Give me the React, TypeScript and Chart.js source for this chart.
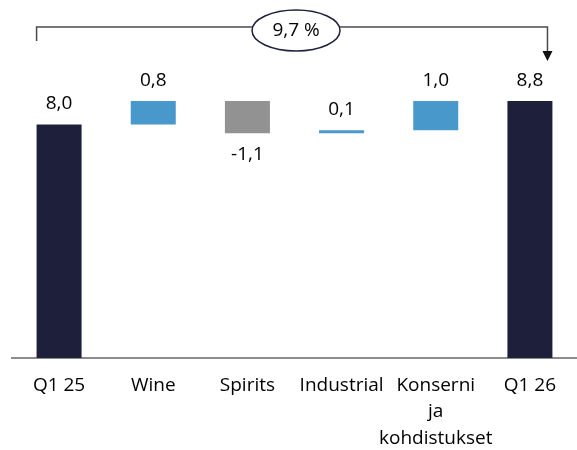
import { useEffect, useRef } from 'react';
import { Chart, registerables } from 'chart.js';

Chart.register(...registerables);

// ---- Data ----
const categories = ['Q1 25', 'Wine', 'Spirits', 'Industrial', 'Konserni ja kohdistukset', 'Q1 26'];
const tickLabels = [['Q1 25'], ['Wine'], ['Spirits'], ['Industrial'], ['Konserni', 'ja', 'kohdistukset'], ['Q1 26']];
const openingValue = 8.0;
const closingValue = 8.8;
const changeValues = [0.8, -1.1, 0.1, 1.0];
const changeText = '9,7 %';

// ---- Styles ----
const NAVY = '#1e1f3b';
const BLUE = '#4898cb';
const GRAY = '#929292';
const FONT = '"Open Sans", sans-serif';

function buildRanges(): number[][] {
  const out: number[][] = [[0, openingValue]];
  let run = openingValue;
  for (const d of changeValues) {
    const next = Math.round((run + d) * 100) / 100;
    out.push([run, next]);
    run = next;
  }
  out.push([0, closingValue]);
  return out;
}

const labelValues = [openingValue, ...changeValues, closingValue];
const fmt = (v: number) => v.toFixed(1).replace('.', ',');

const valueLabelPlugin = {
  id: 'valueLabels',
  afterDatasetsDraw(chart: any) {
    const ctx = chart.ctx;
    const meta = chart.getDatasetMeta(0);
    ctx.save();
    ctx.font = `19px ${FONT}`;
    ctx.fillStyle = '#000000';
    ctx.textAlign = 'center';
    ctx.textBaseline = 'alphabetic';
    meta.data.forEach((bar: any, i: number) => {
      const v = labelValues[i];
      const top = Math.min(bar.y, bar.base);
      const bottom = Math.max(bar.y, bar.base);
      if (v < 0) {
        ctx.fillText(fmt(v), bar.x, bottom + 27);
      } else {
        ctx.fillText(fmt(v), bar.x, top - 15);
      }
    });
    ctx.restore();
  },
};

const bracketPlugin = {
  id: 'bracket',
  afterDraw(chart: any) {
    const ctx = chart.ctx;
    const meta = chart.getDatasetMeta(0);
    const first = meta.data[0];
    const last = meta.data[meta.data.length - 1];
    const leftX = first.x - first.width / 2;
    const rightX = last.x + last.width * 0.39;
    const top = chart.chartArea.top;
    const lineY = top - 39;
    const leftBottom = top - 25;
    const tipY = top - 5;
    const cx = (leftX + rightX) / 2 + 4;
    const cy = lineY + 3.5;
    ctx.save();
    ctx.strokeStyle = '#4a4a55';
    ctx.lineWidth = 1.5;
    ctx.beginPath();
    ctx.moveTo(leftX, leftBottom);
    ctx.lineTo(leftX, lineY);
    ctx.lineTo(rightX, lineY);
    ctx.lineTo(rightX, tipY - 9);
    ctx.stroke();
    ctx.fillStyle = '#111111';
    ctx.beginPath();
    ctx.moveTo(rightX - 5, tipY - 10);
    ctx.lineTo(rightX + 5, tipY - 10);
    ctx.lineTo(rightX, tipY);
    ctx.closePath();
    ctx.fill();
    // ellipse
    ctx.beginPath();
    ctx.ellipse(cx, cy, 44, 20.5, 0, 0, Math.PI * 2);
    ctx.fillStyle = '#ffffff';
    ctx.fill();
    ctx.strokeStyle = NAVY;
    ctx.lineWidth = 1.5;
    ctx.stroke();
    ctx.fillStyle = '#000000';
    ctx.font = `19px ${FONT}`;
    ctx.textAlign = 'center';
    ctx.textBaseline = 'middle';
    ctx.fillText(changeText, cx, cy);
    ctx.restore();
  },
};

export default function App() {
  const canvasRef = useRef<HTMLCanvasElement | null>(null);

  useEffect(() => {
    document.body.style.margin = '0';
    const canvas = canvasRef.current;
    if (!canvas) return;
    const ranges = buildRanges();
    const lastIdx = labelValues.length - 1;
    const colors = labelValues.map((v, i) =>
      i === 0 || i === lastIdx ? NAVY : v < 0 ? GRAY : BLUE
    );
    const chart = new Chart(canvas, {
      type: 'bar',
      data: {
        labels: tickLabels as any,
        datasets: [
          {
            label: 'EBITDA',
            data: ranges as any,
            backgroundColor: colors,
            borderWidth: 0,
            barPercentage: 0.478,
            categoryPercentage: 1,
          },
        ],
      },
      options: {
        responsive: false,
        animation: false,
        layout: { padding: { top: 66, left: 12, right: 0, bottom: 0 } },
        plugins: {
          legend: { display: false },
          tooltip: { enabled: false },
        },
        scales: {
          x: {
            grid: { display: false },
            border: { display: true, color: '#8c8c8c', width: 2 },
            ticks: {
              color: '#000000',
              font: { family: FONT, size: 19, lineHeight: 1.4 },
              padding: 6,
              maxRotation: 0,
              autoSkip: false,
            },
            afterFit: (s: any) => {
              s.height = 92;
            },
          },
          y: { display: false, min: 0, max: 10 },
        },
      },
      plugins: [valueLabelPlugin, bracketPlugin],
    });
    return () => chart.destroy();
  }, []);

  return (
    <div style={{ position: 'absolute', left: 0, top: 0, width: 577, height: 450 }}>
      <canvas ref={canvasRef} width={577} height={450} aria-label={categories.join(', ')} />
    </div>
  );
}
